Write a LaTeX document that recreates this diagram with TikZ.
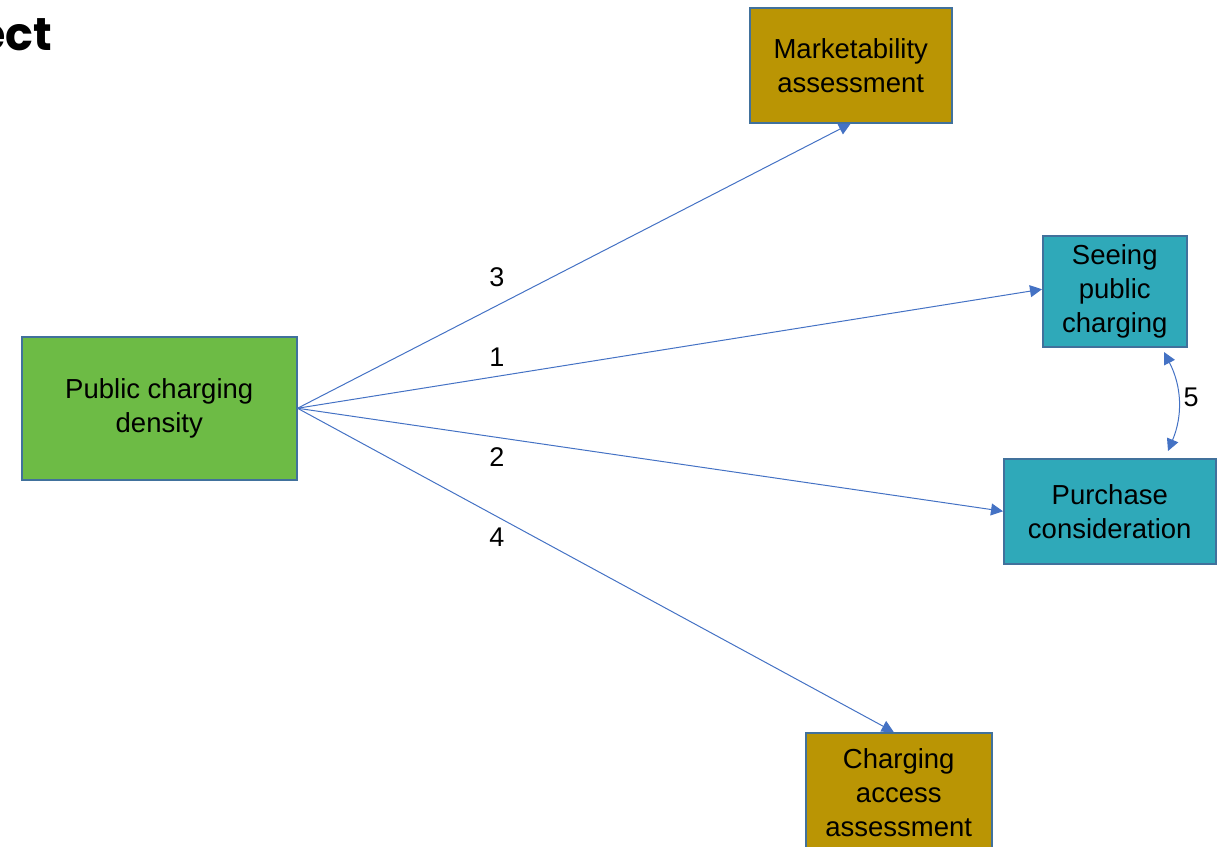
\documentclass[tikz,border=0pt]{standalone}
\usepackage{fontspec}
\setmainfont{Liberation Sans}
\newfontfamily\titlefont{Poppins}
\usetikzlibrary{arrows.meta}
\definecolor{edgeblue}{HTML}{41719C}
\definecolor{arrowblue}{HTML}{4472C4}
\definecolor{greenfill}{HTML}{6DBB45}
\definecolor{goldfill}{HTML}{BA9504}
\definecolor{tealfill}{HTML}{2FA9B9}
\tikzset{
  box/.style={draw=edgeblue, line width=1.5pt, align=center, inner sep=0pt,
    font=\fontsize{27.5}{34}\selectfont, text=black, anchor=north west},
  link/.style={draw=arrowblue, line width=1pt, -{Triangle[length=12pt,width=12pt]}},
  lbl/.style={font=\fontsize{27}{34}\selectfont, text=black},
}
\begin{document}
\begin{tikzpicture}[x=1pt,y=-1pt]
\useasboundingbox (0,0) rectangle (1218,846);
\node[font=\titlefont\bfseries\fontsize{46}{54}\selectfont, anchor=base east] (title) at (56,50) {ect};
\node[box, fill=greenfill, minimum width=275pt, minimum height=143pt] (src) at (21,336) {Public charging\\density};
\node[box, fill=goldfill, minimum width=202pt, minimum height=115pt] (mkt) at (749,7) {Marketability\\assessment};
\node[box, fill=tealfill, minimum width=144pt, minimum height=111pt] (see) at (1042,235) {Seeing\\public\\charging};
\node[box, fill=tealfill, minimum width=212pt, minimum height=105pt] (pur) at (1003,458) {Purchase\\consideration};
\node[box, fill=goldfill, minimum width=186pt, minimum height=120pt] (cha) at (805,732) {Charging\\access\\assessment};
\coordinate (c5a) at (1164,352);
\coordinate (c5b) at (1168,451);
\draw[link] (src.east) -- (mkt.south);
\draw[link] (src.east) -- ([yshift=2pt]see.west);
\draw[link] (src.east) -- (pur.west);
\draw[link] (src.east) -- ([xshift=-5pt]cha.north);
\draw[draw=arrowblue, line width=1pt, {Triangle[length=12pt,width=12pt]}-{Triangle[length=12pt,width=12pt]}] (c5a) to[bend left=25] (c5b);
\node[lbl] (l3) at (497,277) {3};
\node[lbl] (l1) at (497,357) {1};
\node[lbl] (l2) at (497,457) {2};
\node[lbl] (l4) at (497,537) {4};
\node[lbl] (l5) at (1191,397) {5};
\end{tikzpicture}
\end{document}
